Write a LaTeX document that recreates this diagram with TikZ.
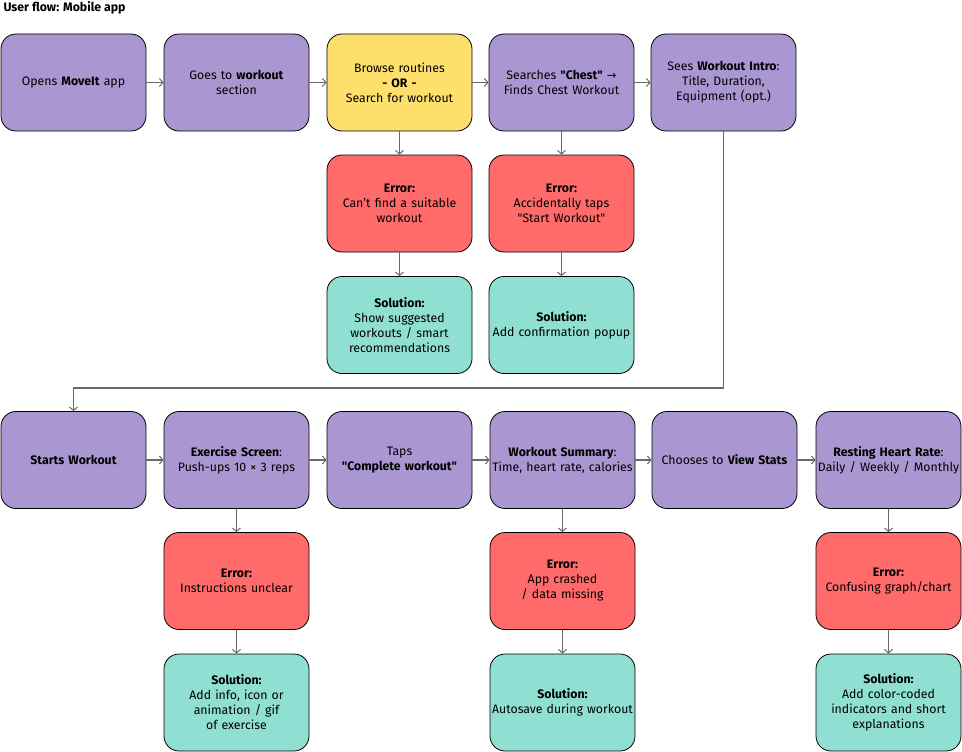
\documentclass[tikz,border=0pt]{standalone}
\usepackage{fontspec}
\setmainfont{Fira Sans}
\newfontfamily\symfont{DejaVu Sans}
\usetikzlibrary{arrows.meta}
\definecolor{bpurple}{HTML}{AA97D2}
\definecolor{byellow}{HTML}{FDE06B}
\definecolor{bred}{HTML}{FF6B6B}
\definecolor{bteal}{HTML}{8FE0D2}
\definecolor{lgray}{HTML}{6A6A6A}
\newcommand{\qq}{\textquotedbl}
\begin{document}
\begin{tikzpicture}[x=1pt,y=-1pt,
  box/.style={draw=black, line width=0.8pt, rounded corners=15pt,
    minimum width=145pt, minimum height=97pt, align=center, text width=143pt,
    inner sep=0pt, font=\fontsize{12.3}{15}\selectfont},
  pbox/.style={box, fill=bpurple},
  ybox/.style={box, fill=byellow},
  ebox/.style={box, fill=bred},
  sbox/.style={box, fill=bteal},
  conn/.style={draw=lgray, line width=1.2pt, -{Straight Barb[length=3.5pt,width=8pt,line width=1pt]}}
]
\useasboundingbox (0,0) rectangle (962,752);
\node[anchor=west, font=\fontsize{12.3}{14}\selectfont\bfseries] (title) at (0,8) {User flow: Mobile app};

% row 1
\node[pbox] (a1) at (73.5,82.5) {Opens \textbf{MoveIt} app};
\node[pbox] (a2) at (236.5,82.5) {Goes to \textbf{workout}\\section};
\node[ybox] (a3) at (399.5,82.5) {Browse routines\\\textbf{- OR -}\\Search for workout};
\node[pbox] (a4) at (561.5,82.5) {Searches \textbf{\qq Chest\qq} {\symfont\fontsize{11.5}{15}\selectfont→}\\Finds Chest Workout};
\node[pbox] (a5) at (723.5,82.5) {Sees \textbf{Workout Intro}:\\Title, Duration,\\Equipment (opt.)};

\node[ebox] (e3) at (399.5,203.5) {\textbf{Error:}\\Can’t find a suitable\\workout};
\node[ebox] (e4) at (561.5,203.5) {\textbf{Error:}\\Accidentally taps\\\qq Start Workout\qq};
\node[sbox] (s3) at (399.5,325) {\textbf{Solution:}\\Show suggested\\workouts / smart\\recommendations};
\node[sbox] (s4) at (561.5,325) {\textbf{Solution:}\\Add confirmation popup};

% row 2
\node[pbox] (b1) at (73.5,460) {\textbf{Starts Workout}};
\node[pbox] (b2) at (236.5,460) {\textbf{Exercise Screen}:\\Push-ups 10 × 3 reps};
\node[pbox] (b3) at (399.5,460) {Taps\\\textbf{\qq Complete workout\qq}};
\node[pbox] (b4) at (562.5,460) {\textbf{Workout Summary}:\\Time, heart rate, calories};
\node[pbox] (b5) at (724.5,460) {Chooses to \textbf{View Stats}};
\node[pbox] (b6) at (888.5,460) {\textbf{Resting Heart Rate}:\\Daily / Weekly / Monthly};

\node[ebox] (f2) at (236.5,581) {\textbf{Error:}\\Instructions unclear};
\node[ebox] (f4) at (562.5,581) {\textbf{Error:}\\App crashed\\/ data missing};
\node[ebox] (f6) at (888.5,581) {\textbf{Error:}\\Confusing graph/chart};
\node[sbox] (t2) at (236.5,702.5) {\textbf{Solution:}\\Add info, icon or\\animation / gif\\of exercise};
\node[sbox] (t4) at (562.5,702.5) {\textbf{Solution:}\\Autosave during workout};
\node[sbox] (t6) at (888.5,702.5) {\textbf{Solution:}\\Add color-coded\\indicators and short\\explanations};

% connectors
\draw[conn] (a1) -- (a2);
\draw[conn] (a2) -- (a3);
\draw[conn] (a3) -- (a4);
\draw[conn] (a4) -- (a5);
\draw[conn] (a3) -- (e3);
\draw[conn] (e3) -- (s3);
\draw[conn] (a4) -- (e4);
\draw[conn] (e4) -- (s4);
\coordinate (elbow) at (400,388);
\draw[conn] (a5.south) -- (a5.south |- elbow) -| (b1.north);
\draw[conn] (b1) -- (b2);
\draw[conn] (b2) -- (b3);
\draw[conn] (b3) -- (b4);
\draw[conn] (b4) -- (b5);
\draw[conn] (b5) -- (b6);
\draw[conn] (b2) -- (f2);
\draw[conn] (f2) -- (t2);
\draw[conn] (b4) -- (f4);
\draw[conn] (f4) -- (t4);
\draw[conn] (b6) -- (f6);
\draw[conn] (f6) -- (t6);
\end{tikzpicture}
\end{document}
